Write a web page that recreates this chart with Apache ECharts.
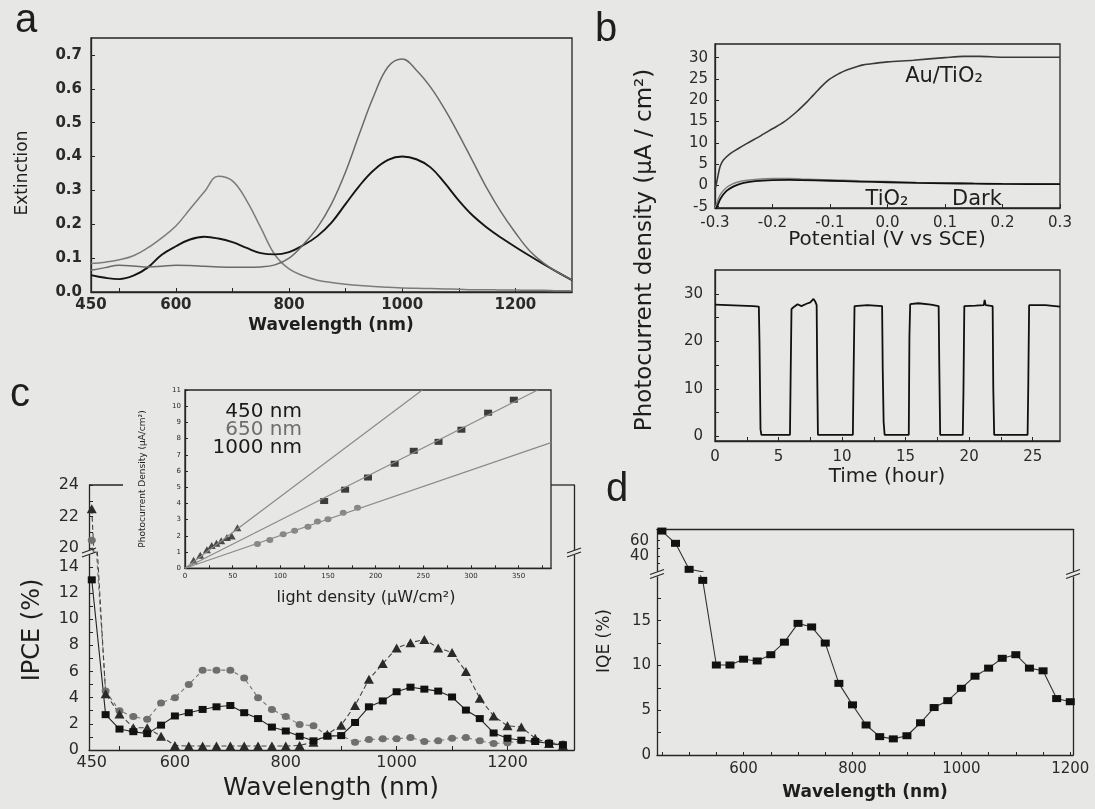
<!DOCTYPE html>
<html>
<head>
<meta charset="utf-8">
<script src="https://cdn.jsdelivr.net/npm/echarts@6/dist/echarts.min.js"></script>
<style>
html,body{margin:0;padding:0;background:#e7e7e5;}
#c{width:1095px;height:809px;}
</style>
</head>
<body>
<div id="c"></div>
<script>
// ---------- Panel a : extinction spectra ----------
const extWavelength = [450,475,500,525,550,575,600,625,650,675,700,725,750,775,800,825,850,875,900,925,950,975,1000,1025,1050,1075,1100,1125,1150,1175,1200,1225,1250,1275,1300];
const extCurveA = [0.084,0.088,0.095,0.107,0.13,0.16,0.195,0.245,0.295,0.342,0.328,0.27,0.19,0.11,0.068,0.048,0.035,0.028,0.023,0.019,0.016,0.014,0.012,0.011,0.010,0.009,0.008,0.007,0.007,0.006,0.006,0.005,0.005,0.004,0.004];
const extCurveB = [0.05,0.042,0.038,0.048,0.072,0.11,0.135,0.155,0.163,0.158,0.147,0.13,0.115,0.111,0.118,0.138,0.165,0.205,0.26,0.315,0.36,0.39,0.40,0.392,0.368,0.322,0.27,0.225,0.19,0.16,0.133,0.107,0.082,0.058,0.035];
const extCurveC = [0.064,0.072,0.079,0.077,0.074,0.076,0.079,0.078,0.076,0.074,0.073,0.073,0.074,0.08,0.10,0.14,0.19,0.26,0.355,0.47,0.58,0.665,0.688,0.655,0.605,0.54,0.465,0.385,0.305,0.235,0.175,0.122,0.085,0.058,0.036];
const extLabelsX = [450,600,800,1000,1200];
const extTicksX = [500,600,700,800,900,1000,1100,1200];
const extLabelsY = [0,0.1,0.2,0.3,0.4,0.5,0.6,0.7];

// ---------- Panel b (top): photocurrent vs potential ----------
const potAuTiO2 = [[-0.3,-1],[-0.297,0.8],[-0.291,4.5],[-0.285,6],[-0.274,7.4],[-0.26,8.6],[-0.245,9.8],[-0.22,11.7],[-0.2,13.3],[-0.18,14.9],[-0.158,17.3],[-0.14,19.6],[-0.129,21.2],[-0.115,23.2],[-0.1,25],[-0.085,26.2],[-0.071,27.1],[-0.055,27.8],[-0.042,28.3],[-0.02,28.7],[0,29],[0.045,29.4],[0.1,30],[0.132,30.3],[0.16,30.3],[0.2,30.1],[0.25,30.1],[0.3,30.1]];
const potTiO2 = [[-0.3,-5.5],[-0.295,-3.5],[-0.29,-2],[-0.28,-0.5],[-0.27,0.3],[-0.26,0.8],[-0.25,1.1],[-0.23,1.4],[-0.2,1.6],[-0.17,1.6],[-0.15,1.5],[-0.1,1.3],[-0.05,1.1],[0,0.9],[0.05,0.7],[0.1,0.6],[0.15,0.5],[0.2,0.4],[0.3,0.35]];
const potDark = [[-0.3,-6],[-0.295,-4.5],[-0.29,-3],[-0.28,-1.3],[-0.27,-0.4],[-0.26,0.2],[-0.25,0.6],[-0.23,1],[-0.2,1.25],[-0.17,1.3],[-0.15,1.25],[-0.1,1.1],[-0.05,0.9],[0,0.75],[0.05,0.6],[0.1,0.5],[0.15,0.4],[0.2,0.35],[0.3,0.3]];
const potLabelsX = [-0.3,-0.2,-0.1,0,0.1,0.2,0.3];
const potLabelsY = [-5,0,5,10,15,20,25,30];

// ---------- Panel b (bottom): stability over time ----------
const stability = [[0,27.7],[1,27.6],[2,27.5],[3,27.4],[3.45,27.3],[3.5,20],[3.58,1.5],[3.65,0.3],[5.9,0.3],[5.95,12],[6.02,26.8],[6.2,27.2],[6.5,27.8],[6.8,27.4],[7.2,27.9],[7.5,28.2],[7.75,28.9],[7.9,28.3],[8.0,27.6],[8.05,12],[8.1,0.3],[10.85,0.3],[10.9,12],[10.98,27.4],[12,27.6],[13.15,27.4],[13.2,14],[13.27,3],[13.35,0.3],[15.25,0.3],[15.3,21],[15.36,27.8],[16,28.0],[17,27.7],[17.6,27.4],[17.65,15],[17.72,0.3],[19.5,0.3],[19.55,9],[19.62,27.4],[20.5,27.5],[21.15,27.6],[21.22,28.7],[21.3,27.6],[21.85,27.4],[21.9,10],[21.97,0.3],[24.6,0.3],[24.65,10],[24.72,27.6],[26,27.6],[27.15,27.3]];
const timeLabelsX = [0,5,10,15,20,25];
const timeTicksX = [0,2.5,5,7.5,10,12.5,15,17.5,20,22.5,25];
const timeLabelsY = [0,10,20,30];
const timeTicksY = [0,5,10,15,20,25,30];

// ---------- Panel c : IPCE ----------
const ipceWavelength = [450,475,500,525,550,575,600,625,650,675,700,725,750,775,800,825,850,875,900,925,950,975,1000,1025,1050,1075,1100,1125,1150,1175,1200,1225,1250,1275,1300];
const ipceSquares = [13.0,2.7,1.6,1.4,1.25,1.9,2.6,2.85,3.1,3.3,3.4,2.85,2.4,1.75,1.45,1.05,0.7,1.05,1.1,2.1,3.3,3.75,4.45,4.8,4.65,4.5,4.05,3.05,2.4,1.3,0.9,0.75,0.65,0.5,0.4];
const ipceTriangles = [22.5,4.3,2.75,1.7,1.7,1.05,0.35,0.3,0.3,0.3,0.3,0.3,0.3,0.3,0.3,0.35,0.6,1.2,1.9,3.4,5.4,6.6,7.8,8.2,8.45,7.8,7.45,6.0,3.95,2.6,1.85,1.75,0.9,0.5,0.35];
const ipceCircles = [20.5,4.5,3.0,2.55,2.35,3.6,4.0,5.0,6.1,6.1,6.1,5.5,4.0,3.1,2.55,1.95,1.85,1.1,1.1,0.6,0.8,0.85,0.85,0.95,0.65,0.7,0.9,0.95,0.7,0.5,0.55,0.7,0.75,0.6,0.45];
const ipceLabelsX = [450,600,800,1000,1200];
const ipceTicksX = [500,600,700,800,900,1000,1100,1200,1300];
const ipceUpperLabelsY = [20,22,24];
const ipceUpperTicksY = [20,21,22,23,24];
const ipceLowerLabelsY = [0,2,4,6,8,10,12,14];
const ipceLowerTicksY = [0,1,2,3,4,5,6,7,8,9,10,11,12,13,14,15];

// ---------- Panel c inset : photocurrent vs light density ----------
const insetTriX = [9,16,23,28,33,38,44,49,55];
const insetTriY = [0.5,0.8,1.15,1.4,1.55,1.7,1.9,2.0,2.5];
const insetSqX = [146,168,192,220,240,266,290,318,345];
const insetSqY = [4.15,4.85,5.6,6.45,7.25,7.8,8.55,9.6,10.4];
const insetCirX = [76,89,103,115,129,139,150,166,181];
const insetCirY = [1.5,1.75,2.1,2.32,2.57,2.88,3.02,3.43,3.74];
const insetFitTri = [[0,0],[249,11]];
const insetFitSq = [[0,0],[370,11]];
const insetFitCir = [[0,0],[384,7.75]];
const insetLabelsX = [0,50,100,150,200,250,300,350];
const insetTicksX = [0,25,50,75,100,125,150,175,200,225,250,275,300,325,350,375];
const insetLabelsY = [0,1,2,3,4,5,6,7,8,9,10,11];
const insetLegend = ['450 nm','650 nm','1000 nm'];

// ---------- Panel d : IQE ----------
const iqeWavelength = [450,475,500,525,550,575,600,625,650,675,700,725,750,775,800,825,850,875,900,925,950,975,1000,1025,1050,1075,1100,1125,1150,1175,1200];
const iqeValues = [72.6,56.6,22.7,19.5,10.05,10.05,10.7,10.5,11.2,12.6,14.7,14.3,12.5,8.0,5.6,3.35,2.05,1.8,2.15,3.6,5.3,6.07,7.45,8.8,9.7,10.8,11.2,9.7,9.4,6.3,5.95];
const iqeLabelsX = [600,800,1000,1200];
const iqeTicksX = [450,500,550,600,650,700,750,800,850,900,950,1000,1050,1100,1150,1200];
const iqeUpperLabelsY = [40,60];
const iqeUpperTicksY = [30,40,50,60,70];
const iqeLowerLabelsY = [0,5,10,15];
const iqeLowerTicksY = [0,2.5,5,7.5,10,12.5,15,17.5];

// ---------- helpers ----------
const BG = '#e7e7e5';
const INK = '#262626';
const FONT = 'DejaVu Sans';
const zip = (xs, ys) => xs.map((x, i) => [x, ys[i]]);

function axis(o) {
  const base = {
    type: 'value',
    axisLine: {show: true, onZero: false, lineStyle: {color: INK, width: 1.3}},
    axisTick: {show: true, inside: true, length: 4, lineStyle: {color: INK, width: 1}},
    axisLabel: {show: true, color: '#2a2a2a', fontSize: 15, fontFamily: FONT, margin: 6, formatter: v => String(v)},
    splitLine: {show: false}
  };
  const r = Object.assign({}, base, o);
  ['axisLine', 'axisTick', 'axisLabel'].forEach(k => { r[k] = Object.assign({}, base[k], o[k] || {}); });
  return r;
}
function lineOnly(o) {
  return axis(Object.assign({axisTick: {show: false}, axisLabel: {show: false}}, o));
}
function txt(x, y, text, size, o) {
  o = o || {};
  return {
    type: 'text', x: x, y: y, rotation: o.rot || 0, z: 100,
    style: {
      text: text, fill: o.color || '#1e1e1e',
      font: (o.weight || 'normal') + ' ' + size + 'px "' + (o.family || FONT) + '"',
      align: o.align || 'center', verticalAlign: 'middle'
    }
  };
}
function seg(x1, y1, x2, y2, w) {
  return {type: 'line', z: 100, shape: {x1: x1, y1: y1, x2: x2, y2: y2}, style: {stroke: INK, lineWidth: w || 1.3}};
}
function breakMark(cx, cy) {
  return [
    {type: 'rect', z: 99, shape: {x: cx - 3, y: cy - 2, width: 6, height: 5}, style: {fill: BG}},
    seg(cx - 7, cy + 1, cx + 7, cy - 4, 1.2),
    seg(cx - 7, cy + 5, cx + 7, cy, 1.2)
  ];
}
const f1 = v => v.toFixed(1);

const gridBox = {show: true, borderColor: INK, borderWidth: 1.3, backgroundColor: 'transparent', outerBoundsMode: 'none', containLabel: false};
const gridPlain = {show: false, outerBoundsMode: 'none', containLabel: false};

const option = {
  animation: false,
  backgroundColor: BG,
  textStyle: {fontFamily: FONT},
  grid: [
    Object.assign({left: 91, top: 38, width: 481, height: 254}, gridBox),          // 0 a
    Object.assign({left: 715, top: 44, width: 345, height: 164}, gridBox),         // 1 b top
    Object.assign({left: 715, top: 270, width: 345, height: 171}, gridBox),        // 2 b bottom
    Object.assign({left: 89, top: 485, width: 485, height: 66.7}, gridPlain),      // 3 c upper
    Object.assign({left: 89, top: 551.7, width: 485, height: 198.3}, gridPlain),   // 4 c lower
    Object.assign({left: 185, top: 390, width: 366, height: 178.3}, gridBox, {backgroundColor: BG}), // 5 inset
    Object.assign({left: 657, top: 529.3, width: 416, height: 42.1}, gridPlain),   // 6 d upper
    Object.assign({left: 657, top: 575.9, width: 416, height: 179.1}, gridPlain)   // 7 d lower
  ],
  xAxis: [
    axis({gridIndex: 0, min: 450, max: 1300,
      axisLabel: {customValues: extLabelsX, fontWeight: 'bold', fontSize: 15, margin: 6},
      axisTick: {customValues: extTicksX}}),
    axis({gridIndex: 1, min: -0.3, max: 0.3,
      axisLabel: {customValues: potLabelsX, formatter: f1, margin: 8},
      axisTick: {customValues: potLabelsX}}),
    axis({gridIndex: 2, min: 0, max: 27.15,
      axisLabel: {customValues: timeLabelsX, margin: 9},
      axisTick: {customValues: timeTicksX}}),
    axis({gridIndex: 3, min: 445, max: 1320, show: false}),
    axis({gridIndex: 4, min: 445, max: 1320,
      axisLabel: {customValues: ipceLabelsX, margin: 5, fontSize: 16},
      axisTick: {customValues: ipceTicksX}}),
    axis({gridIndex: 5, min: 0, max: 384,
      axisLabel: {customValues: insetLabelsX, fontSize: 7, margin: 4},
      axisTick: {customValues: insetTicksX, length: 3}}),
    lineOnly({gridIndex: 6, min: 441, max: 1205, position: 'top'}),
    axis({gridIndex: 7, min: 441, max: 1205,
      axisLabel: {customValues: iqeLabelsX, margin: 7},
      axisTick: {customValues: iqeTicksX, length: 3}})
  ],
  yAxis: [
    axis({gridIndex: 0, min: 0, max: 0.75,
      axisLabel: {customValues: extLabelsY, formatter: f1, fontWeight: 'bold', margin: 9},
      axisTick: {customValues: extLabelsY}}),
    axis({gridIndex: 1, min: -5.3, max: 33.2,
      axisLabel: {customValues: potLabelsY, margin: 7},
      axisTick: {customValues: potLabelsY}}),
    axis({gridIndex: 2, min: -1, max: 35,
      axisLabel: {customValues: timeLabelsY, margin: 12},
      axisTick: {customValues: timeTicksY}}),
    axis({gridIndex: 3, min: 19.78, max: 24,
      axisLabel: {customValues: ipceUpperLabelsY, margin: 10, fontSize: 16},
      axisTick: {customValues: ipceUpperTicksY}}),
    axis({gridIndex: 4, min: 0, max: 15.15,
      axisLabel: {customValues: ipceLowerLabelsY, margin: 10, fontSize: 16},
      axisTick: {customValues: ipceLowerTicksY}}),
    axis({gridIndex: 5, min: 0, max: 11, interval: 1,
      axisLabel: {customValues: insetLabelsY, fontSize: 7, margin: 4},
      axisTick: {customValues: insetLabelsY, length: 3}}),
    axis({gridIndex: 6, min: 20, max: 74.9,
      axisLabel: {customValues: iqeUpperLabelsY, margin: 8},
      axisTick: {customValues: iqeUpperTicksY, length: 3}}),
    axis({gridIndex: 7, min: 0, max: 20,
      axisLabel: {customValues: iqeLowerLabelsY, margin: 6},
      axisTick: {customValues: iqeLowerTicksY}}),
    lineOnly({gridIndex: 3, min: 19.78, max: 24, position: 'right'}),
    lineOnly({gridIndex: 4, min: 0, max: 15.15, position: 'right'}),
    lineOnly({gridIndex: 6, min: 20, max: 74.9, position: 'right'}),
    lineOnly({gridIndex: 7, min: 0, max: 20, position: 'right'})
  ],
  series: []
};

// panel a
[[extCurveA, '#7c7c7c', 1.5], [extCurveB, '#151515', 1.9], [extCurveC, '#6a6a6a', 1.5]].forEach(([ys, col, w]) => {
  option.series.push({type: 'line', xAxisIndex: 0, yAxisIndex: 0, data: zip(extWavelength, ys),
    smooth: 0.4, showSymbol: false, lineStyle: {color: col, width: w}});
});
// panel b top
[[potAuTiO2, '#3a3a3a', 1.6], [potTiO2, '#808080', 1.5], [potDark, '#111111', 1.8]].forEach(([d, col, w]) => {
  option.series.push({type: 'line', xAxisIndex: 1, yAxisIndex: 1, data: d, smooth: 0.3,
    showSymbol: false, lineStyle: {color: col, width: w}});
});
// panel b bottom
option.series.push({type: 'line', xAxisIndex: 2, yAxisIndex: 2, data: stability, showSymbol: false,
  lineStyle: {color: '#101010', width: 1.8}});

// panel c, each series drawn into the upper and lower part of the broken axis
const ipceSets = [
  {ys: ipceCircles, symbol: 'circle', size: [8, 7], col: '#6f6f6f', line: {color: '#777', width: 1.1, type: [4, 3]}},
  {ys: ipceTriangles, symbol: 'triangle', size: [10, 9], col: '#2a2a2a', line: {color: '#444', width: 1.1, type: [5, 3]}},
  {ys: ipceSquares, symbol: 'rect', size: [8, 7], col: '#111', line: {color: '#222', width: 1.1}}
];
[[3, 3], [4, 4]].forEach(([xi, yi]) => {
  ipceSets.forEach(s => {
    option.series.push({type: 'line', xAxisIndex: xi, yAxisIndex: yi, data: zip(ipceWavelength, s.ys), clip: true,
      symbol: s.symbol, symbolSize: s.size, showSymbol: true, showAllSymbol: true,
      itemStyle: {color: s.col}, lineStyle: s.line});
  });
});

// inset
[insetFitTri, insetFitSq, insetFitCir].forEach(d => {
  option.series.push({type: 'line', xAxisIndex: 5, yAxisIndex: 5, data: d, clip: true, showSymbol: false,
    lineStyle: {color: '#8a8a8a', width: 1.2}});
});
option.series.push({type: 'scatter', xAxisIndex: 5, yAxisIndex: 5, data: zip(insetCirX, insetCirY), symbol: 'circle', symbolSize: [7, 6], itemStyle: {color: '#6f6f6f'}});
option.series.push({type: 'scatter', xAxisIndex: 5, yAxisIndex: 5, data: zip(insetSqX, insetSqY), symbol: 'rect', symbolSize: [8, 6], itemStyle: {color: '#111'}});
option.series.push({type: 'scatter', xAxisIndex: 5, yAxisIndex: 5, data: zip(insetTriX, insetTriY), symbol: 'triangle', symbolSize: [8, 7], itemStyle: {color: '#222'}});

// panel d, upper and lower part of the broken axis
[[6, 6], [7, 7]].forEach(([xi, yi]) => {
  option.series.push({type: 'line', xAxisIndex: xi, yAxisIndex: yi, data: zip(iqeWavelength, iqeValues), clip: true,
    symbol: 'rect', symbolSize: [9, 7], showAllSymbol: true, itemStyle: {color: '#111'},
    lineStyle: {color: '#333', width: 1.1}});
});

// texts and decorations
option.graphic = [
  txt(26, 21, 'a', 40, {family: 'Liberation Sans'}),
  txt(606, 30, 'b', 40, {family: 'Liberation Sans'}),
  txt(20, 395, 'c', 40, {family: 'Liberation Sans'}),
  txt(617, 490, 'd', 40, {family: 'Liberation Sans'}),

  txt(23, 173, 'Extinction', 17, {rot: Math.PI / 2}),
  txt(331, 326, 'Wavelength (nm)', 17, {weight: 'bold'}),

  txt(645, 250, 'Photocurrent density (μA / cm²)', 23, {rot: Math.PI / 2}),
  txt(887, 240, 'Potential (V vs SCE)', 20),
  txt(887, 477, 'Time (hour)', 20),
  txt(944, 77, 'Au/TiO₂', 21),
  txt(887, 200, 'TiO₂', 21),
  txt(977, 200, 'Dark', 21),

  txt(33, 630, 'IPCE (%)', 24, {rot: Math.PI / 2}),
  txt(331, 788, 'Wavelength (nm)', 25),
  txt(366, 598, 'light density (μW/cm²)', 16),
  txt(143, 479, 'Photocurrent Density (μA/cm²)', 9, {rot: Math.PI / 2}),
  txt(302, 412, insetLegend[0], 20, {align: 'right', color: '#1a1a1a'}),
  txt(302, 430, insetLegend[1], 20, {align: 'right', color: '#6e6e6e'}),
  txt(302, 448, insetLegend[2], 20, {align: 'right', color: '#1a1a1a'}),

  txt(605, 641, 'IQE (%)', 17, {rot: Math.PI / 2}),
  txt(865, 793, 'Wavelength (nm)', 17, {weight: 'bold'}),

  seg(89, 485, 123, 485),
  seg(551, 485, 574, 485)
].concat(breakMark(89, 552), breakMark(574, 552), breakMark(657, 573.5), breakMark(1073, 573.5));

const chart = echarts.init(document.getElementById('c'), null, {width: 1095, height: 809});
chart.setOption(option);
</script>
</body>
</html>
